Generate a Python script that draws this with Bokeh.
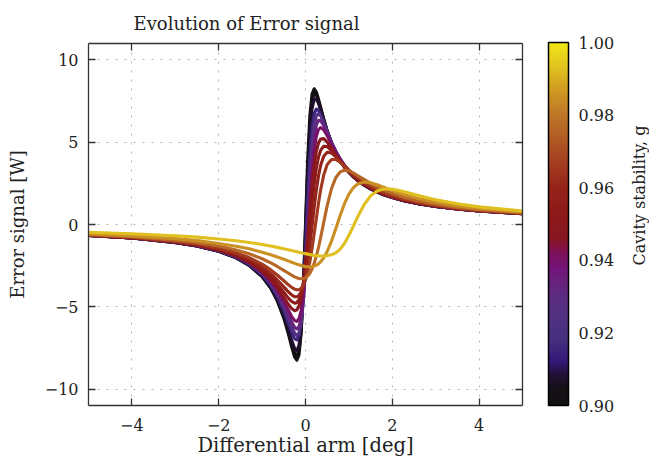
import math
from bokeh.plotting import figure
from bokeh.layouts import row
from bokeh.models import (ColorBar, LinearColorMapper, LinearAxis, Label, FixedTicker,
                          Range1d, PrintfTickFormatter)
from bokeh.embed import file_html
from bokeh.resources import INLINE

# ---------------- data ----------------
X = [-5.0, -4.0, -3.0, -2.5, -2.0, -1.6, -1.3, -1.0, -0.8, -0.65, -0.5, -0.4, -0.32, -0.25,
     -0.2, -0.15, -0.1, -0.05, 0.0, 0.05, 0.1, 0.15, 0.2, 0.25, 0.3, 0.35, 0.42, 0.5, 0.6,
     0.7, 0.8, 0.9, 1.0, 1.1, 1.2, 1.35, 1.5, 1.65, 1.8, 1.95, 2.1, 2.3, 2.6, 3.0, 3.5, 4.0, 5.0]

Y_1 = [-0.66, -0.82, -1.10, -1.31, -1.63, -2.03, -2.48, -3.17, -3.88, -4.64, -5.69, -6.60, -7.42, -8.05,
       -8.25, -7.92, -6.60, -3.88, 0.00, 3.88, 6.60, 7.92, 8.25, 8.05, 7.62, 7.11, 6.41, 5.69, 4.95,
       4.36, 3.88, 3.49, 3.17, 2.90, 2.68, 2.39, 2.16, 1.97, 1.81, 1.68, 1.56, 1.42, 1.26, 1.10, 0.94, 0.82, 0.66]
Y_1B = [-0.66, -0.82, -1.09, -1.31, -1.63, -2.02, -2.47, -3.15, -3.84, -4.58, -5.59, -6.46, -7.23, -7.81,
        -7.98, -7.66, -6.44, -3.96, -0.39, 3.32, 6.05, 7.50, 7.96, 7.87, 7.50, 7.04, 6.37, 5.68, 4.95,
        4.36, 3.89, 3.50, 3.18, 2.91, 2.68, 2.40, 2.17, 1.98, 1.81, 1.68, 1.56, 1.43, 1.26, 1.10, 0.94, 0.82, 0.66]
Y_2 = [-0.66, -0.82, -1.09, -1.31, -1.62, -2.01, -2.45, -3.13, -3.81, -4.52, -5.50, -6.31, -7.02, -7.54,
       -7.67, -7.35, -6.23, -3.98, -0.71, 2.76, 5.47, 7.02, 7.62, 7.63, 7.35, 6.93, 6.31, 5.65, 4.94,
       4.36, 3.89, 3.50, 3.18, 2.91, 2.69, 2.40, 2.17, 1.98, 1.82, 1.68, 1.56, 1.43, 1.27, 1.10, 0.94, 0.83, 0.66]
Y_3 = [-0.66, -0.82, -1.08, -1.30, -1.61, -1.99, -2.42, -3.06, -3.70, -4.36, -5.24, -5.95, -6.54, -6.94,
       -7.02, -6.73, -5.83, -4.07, -1.48, 1.48, 4.07, 5.83, 6.73, 7.02, 6.94, 6.67, 6.17, 5.58, 4.92,
       4.36, 3.90, 3.52, 3.20, 2.93, 2.70, 2.42, 2.18, 1.99, 1.83, 1.69, 1.57, 1.44, 1.27, 1.10, 0.95, 0.83, 0.66]
Y_4 = [-0.65, -0.81, -1.08, -1.28, -1.59, -1.96, -2.37, -2.98, -3.59, -4.20, -5.01, -5.66, -6.20, -6.60,
       -6.74, -6.60, -6.00, -4.71, -2.64, 0.00, 2.64, 4.71, 6.00, 6.60, 6.74, 6.60, 6.20, 5.66, 5.01,
       4.45, 3.98, 3.59, 3.26, 2.98, 2.75, 2.45, 2.21, 2.02, 1.85, 1.71, 1.59, 1.45, 1.28, 1.11, 0.95, 0.83, 0.67]
Y_5 = [-0.65, -0.81, -1.07, -1.28, -1.58, -1.94, -2.34, -2.94, -3.52, -4.10, -4.85, -5.44, -5.92, -6.25,
       -6.35, -6.20, -5.67, -4.56, -2.78, -0.49, 1.91, 3.92, 5.30, 6.05, 6.33, 6.31, 6.02, 5.56, 4.96,
       4.43, 3.97, 3.59, 3.26, 2.99, 2.75, 2.46, 2.22, 2.02, 1.86, 1.71, 1.59, 1.45, 1.29, 1.11, 0.95, 0.83, 0.67]
Y_6 = [-0.65, -0.81, -1.07, -1.27, -1.57, -1.92, -2.31, -2.89, -3.44, -3.98, -4.66, -5.18, -5.58, -5.84,
       -5.89, -5.73, -5.23, -4.27, -2.77, -0.84, 1.25, 3.11, 4.50, 5.36, 5.78, 5.89, 5.75, 5.39, 4.87,
       4.37, 3.94, 3.57, 3.25, 2.98, 2.75, 2.46, 2.22, 2.03, 1.86, 1.72, 1.60, 1.46, 1.29, 1.12, 0.96, 0.84, 0.67]
Y_7 = [-0.65, -0.81, -1.06, -1.26, -1.56, -1.90, -2.28, -2.83, -3.34, -3.83, -4.42, -4.83, -5.11, -5.24,
       -5.19, -4.96, -4.45, -3.59, -2.36, -0.83, 0.83, 2.36, 3.59, 4.45, 4.96, 5.19, 5.22, 5.01, 4.62,
       4.21, 3.83, 3.49, 3.20, 2.94, 2.72, 2.44, 2.21, 2.02, 1.85, 1.71, 1.59, 1.45, 1.29, 1.12, 0.96, 0.84, 0.67]
Y_8 = [-0.64, -0.80, -1.05, -1.25, -1.53, -1.86, -2.22, -2.72, -3.18, -3.62, -4.12, -4.46, -4.68, -4.78,
       -4.75, -4.57, -4.20, -3.58, -2.67, -1.49, -0.14, 1.23, 2.45, 3.42, 4.10, 4.52, 4.76, 4.74, 4.49,
       4.15, 3.81, 3.49, 3.21, 2.96, 2.74, 2.46, 2.23, 2.04, 1.87, 1.73, 1.61, 1.47, 1.30, 1.12, 0.96, 0.84, 0.67]
Y_9 = [-0.64, -0.79, -1.03, -1.22, -1.49, -1.80, -2.13, -2.58, -2.99, -3.37, -3.79, -4.08, -4.28, -4.39,
       -4.39, -4.31, -4.09, -3.71, -3.11, -2.29, -1.26, -0.12, 1.04, 2.10, 2.96, 3.60, 4.15, 4.39, 4.34,
       4.11, 3.82, 3.53, 3.26, 3.02, 2.80, 2.51, 2.28, 2.08, 1.91, 1.76, 1.64, 1.49, 1.32, 1.14, 0.97, 0.85, 0.68]
Y_10 = [-0.63, -0.77, -1.01, -1.18, -1.43, -1.72, -2.01, -2.41, -2.76, -3.07, -3.42, -3.65, -3.82, -3.93,
        -3.97, -3.96, -3.87, -3.69, -3.37, -2.90, -2.27, -1.48, -0.57, 0.38, 1.30, 2.12, 3.01, 3.64, 3.95,
        3.95, 3.78, 3.56, 3.32, 3.09, 2.88, 2.59, 2.35, 2.14, 1.97, 1.81, 1.68, 1.53, 1.35, 1.17, 0.99, 0.87, 0.69]
Y_11 = [-0.61, -0.74, -0.95, -1.10, -1.31, -1.55, -1.78, -2.08, -2.33, -2.55, -2.79, -2.95, -3.08, -3.18,
        -3.24, -3.28, -3.30, -3.29, -3.24, -3.13, -2.96, -2.70, -2.36, -1.92, -1.39, -0.78, 0.13, 1.15, 2.19,
        2.86, 3.20, 3.30, 3.26, 3.14, 2.98, 2.74, 2.50, 2.29, 2.10, 1.94, 1.80, 1.63, 1.43, 1.23, 1.04, 0.90, 0.71]
Y_12 = [-0.57, -0.69, -0.86, -0.98, -1.15, -1.32, -1.48, -1.68, -1.84, -1.97, -2.11, -2.21, -2.29, -2.36,
        -2.41, -2.45, -2.49, -2.53, -2.56, -2.57, -2.58, -2.57, -2.53, -2.48, -2.39, -2.26, -2.02, -1.64, -1.01,
        -0.24, 0.56, 1.28, 1.85, 2.23, 2.46, 2.58, 2.54, 2.42, 2.27, 2.12, 1.98, 1.80, 1.58, 1.35, 1.13, 0.97, 0.76]
Y_13 = [-0.47, -0.56, -0.68, -0.77, -0.88, -0.99, -1.09, -1.21, -1.31, -1.39, -1.47, -1.53, -1.58, -1.62,
        -1.65, -1.68, -1.72, -1.75, -1.77, -1.80, -1.83, -1.86, -1.88, -1.89, -1.91, -1.91, -1.91, -1.89, -1.84,
        -1.72, -1.50, -1.14, -0.66, -0.11, 0.45, 1.20, 1.74, 2.04, 2.16, 2.16, 2.10, 1.98, 1.76, 1.51, 1.26, 1.07, 0.82]

# cavity stability g of each curve
G = [0.900, 0.903, 0.907, 0.915, 0.925, 0.933, 0.940, 0.948, 0.953, 0.959, 0.966, 0.977, 0.985, 0.993]
CURVES = [Y_1, Y_1B, Y_2, Y_3, Y_4, Y_5, Y_6, Y_7, Y_8, Y_9, Y_10, Y_11, Y_12, Y_13]

X_TICKS = [-4, -2, 0, 2, 4]
Y_TICKS = [-10, -5, 0, 5, 10]
G_TICKS = [0.90, 0.92, 0.94, 0.96, 0.98, 1.00]
G_LOW, G_HIGH = 0.90, 1.00

# ---------------- styling ----------------
ANCHORS = [(0.900, "#121010"), (0.905, "#161018"), (0.909, "#261040"), (0.912, "#34187a"),
           (0.918, "#46307e"), (0.925, "#533282"), (0.932, "#622880"), (0.938, "#741478"),
           (0.942, "#7c1058"), (0.946, "#881622"), (0.952, "#8c1818"), (0.960, "#96241a"),
           (0.967, "#a43e20"), (0.974, "#b25c24"), (0.980, "#be7628"), (0.987, "#d09a22"),
           (0.993, "#e0c020"), (1.000, "#f0e618")]


def _rgb(h):
    return tuple(int(h[i:i + 2], 16) for i in (1, 3, 5))


def cmap(g):
    if g <= ANCHORS[0][0]:
        return ANCHORS[0][1]
    for (g0, c0), (g1, c1) in zip(ANCHORS[:-1], ANCHORS[1:]):
        if g <= g1:
            t = (g - g0) / (g1 - g0)
            a, b = _rgb(c0), _rgb(c1)
            return "#%02x%02x%02x" % tuple(int(round(a[k] + (b[k] - a[k]) * t)) for k in range(3))
    return ANCHORS[-1][1]


PALETTE = [cmap(G_LOW + (G_HIGH - G_LOW) * i / 255) for i in range(256)]

FONT = "DejaVu Serif"
DARK = "#333333"
TXT = "#222222"

p = figure(width=628, height=468, x_range=Range1d(-5, 5), y_range=Range1d(-11, 11),
           output_backend="svg", toolbar_location=None,
           min_border_left=88, min_border_right=106, min_border_top=42, min_border_bottom=63,
           x_axis_label="Differential arm [deg]", y_axis_label="Error signal [W]")
p.background_fill_color = "white"
p.border_fill_color = "white"
p.outline_line_color = None

p.title.text = "Evolution of Error signal"
p.title.text_font = FONT
p.title.text_font_size = "18px"
p.title.text_font_style = "normal"
p.title.text_color = TXT
p.title.align = "left"
p.title.offset = 45
try:
    p.title.standoff = 20
except Exception:
    pass


def minus(v):
    return str(v).replace("-", "\u2212")


def style_axis(ax, ticks, labels=True):
    ax.ticker = FixedTicker(ticks=ticks)
    ax.axis_line_color = DARK
    ax.axis_line_width = 1.3
    ax.major_tick_line_color = DARK
    ax.major_tick_line_width = 1.3
    ax.major_tick_in = 7
    ax.major_tick_out = 0
    ax.minor_tick_line_color = None
    ax.major_label_text_font = FONT
    ax.axis_label_text_font = FONT
    ax.axis_label_text_font_size = "18px"
    ax.axis_label_text_font_style = "normal"
    ax.axis_label_text_color = TXT
    if labels:
        ax.major_label_text_color = TXT
        ax.major_label_text_font_size = "16px"
        ax.major_label_overrides = {t: minus(t) for t in ticks}
    else:
        ax.major_label_text_color = None
        ax.major_label_text_font_size = "0px"
        ax.major_label_standoff = 0


style_axis(p.xaxis[0], X_TICKS)
style_axis(p.yaxis[0], Y_TICKS)
p.xaxis[0].major_label_standoff = 13
p.xaxis[0].axis_label_standoff = 0
p.xaxis[0].axis_label_text_font_size = "19.5px"
p.yaxis[0].major_label_standoff = 10
p.yaxis[0].axis_label_standoff = 14

top_ax = LinearAxis()
style_axis(top_ax, X_TICKS, labels=False)
p.add_layout(top_ax, "above")
right_ax = LinearAxis()
style_axis(right_ax, Y_TICKS, labels=False)
p.add_layout(right_ax, "right")

for grid, ticks in ((p.xgrid[0], X_TICKS), (p.ygrid[0], Y_TICKS)):
    grid.ticker = FixedTicker(ticks=ticks)
    grid.grid_line_color = "#b5b5b5"
    grid.grid_line_width = 1
    grid.grid_line_dash = "2 7"

for g, ys in zip(G, CURVES):
    col = PALETTE[int(round((g - G_LOW) / (G_HIGH - G_LOW) * 255))]
    p.line(X, ys, line_color=col, line_width=3.1, line_join="round", line_cap="round")

mapper = LinearColorMapper(palette=PALETTE, low=G_LOW, high=G_HIGH)
cb = ColorBar(color_mapper=mapper, ticker=FixedTicker(ticks=G_TICKS),
              formatter=PrintfTickFormatter(format="%.2f"),
              width=20, height=363, padding=0, margin=0, location=(26, 0),
              major_label_text_font=FONT, major_label_text_font_size="16px",
              major_label_text_color=TXT, label_standoff=10,
              major_tick_line_color=None, minor_tick_line_color=None,
              bar_line_color="black", bar_line_width=1.5,
              border_line_color=None, background_fill_alpha=0)
p.add_layout(cb, "right")

# narrow strip on the right that carries the colour-bar caption
q = figure(width=21, height=468, x_range=Range1d(0, 1), y_range=Range1d(0, 1),
           output_backend="svg", toolbar_location=None,
           x_axis_location=None, y_axis_location=None, min_border=0)
q.outline_line_color = None
q.background_fill_color = "white"
q.border_fill_color = "white"
for gr in q.grid:
    gr.visible = False
q.add_layout(Label(x=11, y=210, x_units="screen", y_units="screen",
                   text="Cavity stability, g", angle=math.pi / 2,
                   text_align="center", text_baseline="middle",
                   text_font=FONT, text_font_size="16px", text_color=TXT))

layout = row(p, q, spacing=0)
open("out.html", "w").write(file_html(layout, INLINE))
